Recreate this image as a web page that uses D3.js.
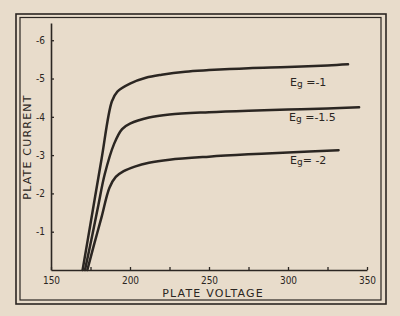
<!DOCTYPE html>
<html>
<head>
<meta charset="utf-8">
<script src="https://cdn.jsdelivr.net/npm/d3@7"></script>
<style>
  body { margin: 0; background: #e8dccb; }
  svg { display: block; }
  text { fill: #2b2622; font-family: "DejaVu Sans", sans-serif; }
</style>
</head>
<body>
<svg width="400" height="316"></svg>
<script>
// plate voltage (V) vs plate current for three grid bias values
var eg1 = [[170,0],[176,1.45],[182,2.9],[188.5,4.4],[192,4.66],[200,4.87],[210,5.02],[220,5.1],[235,5.18],[250,5.22],[275,5.27],[300,5.3],[325,5.34],[338,5.37]];
var eg15 = [[171.5,0],[176,0.88],[180,1.7],[184,2.5],[190,3.3],[195,3.68],[200,3.82],[212,3.98],[225,4.06],[250,4.12],[275,4.16],[300,4.19],[325,4.22],[345,4.25]];
var eg2 = [[173,0],[177.5,0.7],[182,1.38],[187,2.15],[191,2.43],[196,2.58],[203,2.7],[212,2.8],[225,2.88],[250,2.96],[275,3.02],[300,3.07],[332,3.13]];
var curveLabels = ["-1", "-1.5", "-2"];
var xTicks = [150, 175, 200, 225, 250, 275, 300, 325, 350];
var yTicks = [1, 2, 3, 4, 5, 6];

var svg = d3.select("svg");
var ink = "#2b2622";

// double frame
svg.append("rect").attr("x", 16).attr("y", 14).attr("width", 370).attr("height", 290)
  .attr("fill", "none").attr("stroke", ink).attr("stroke-width", 1.6);
svg.append("rect").attr("x", 20).attr("y", 17.5).attr("width", 361).attr("height", 282.5)
  .attr("fill", "none").attr("stroke", ink).attr("stroke-width", 1.2);

var x = d3.scaleLinear().domain([150, 350]).range([51, 367]);
var y = d3.scaleLinear().domain([0, 6.45]).range([270, 23]);

var xAxis = svg.append("g")
  .attr("transform", "translate(0,270)")
  .call(d3.axisBottom(x).tickValues(xTicks).tickSize(-3).tickSizeOuter(0).tickPadding(7)
    .tickFormat(d => d % 50 ? "" : d));
var yAxis = svg.append("g")
  .attr("transform", "translate(51,0)")
  .call(d3.axisLeft(y).tickValues(yTicks).tickSize(-3).tickSizeOuter(0).tickPadding(6)
    .tickFormat(d => "-" + d));

[xAxis, yAxis].forEach(g => {
  g.select(".domain").attr("stroke", ink).attr("stroke-width", 1.6);
  g.selectAll(".tick line").attr("stroke", ink).attr("stroke-width", 1.3);
  g.selectAll(".tick text").attr("font-size", 10).attr("fill", ink)
    .style("font-family", "'DejaVu Sans Condensed', sans-serif");
});

svg.append("text").attr("x", 213).attr("y", 297).attr("text-anchor", "middle")
  .attr("font-size", 11).attr("letter-spacing", 1.2).text("PLATE  VOLTAGE");
svg.append("text").attr("transform", "translate(31,147) rotate(-90)").attr("text-anchor", "middle")
  .attr("font-size", 11).attr("letter-spacing", 1.2).text("PLATE  CURRENT");

var line = d3.line().x(d => x(d[0])).y(d => y(d[1])).curve(d3.curveCatmullRom.alpha(0.5));

svg.selectAll(".curve")
  .data([eg1, eg15, eg2])
  .enter().append("path")
  .attr("class", "curve")
  .attr("d", line)
  .attr("fill", "none")
  .attr("stroke", ink)
  .attr("stroke-width", 2.5)
  .attr("stroke-linecap", "round");

// curve labels just under each line end
var labelY = [86, 121, 164];
var labelX = [290, 289, 290];
curveLabels.forEach((lab, i) => {
  var t = svg.append("text").attr("x", labelX[i]).attr("y", labelY[i]).attr("font-size", 11);
  t.append("tspan").text("E");
  t.append("tspan").attr("font-size", 9).attr("dy", 1).text("g");
  t.append("tspan").attr("dy", -1).text(i == 2 ? "= " + lab : " =" + lab);
});
</script>
</body>
</html>
